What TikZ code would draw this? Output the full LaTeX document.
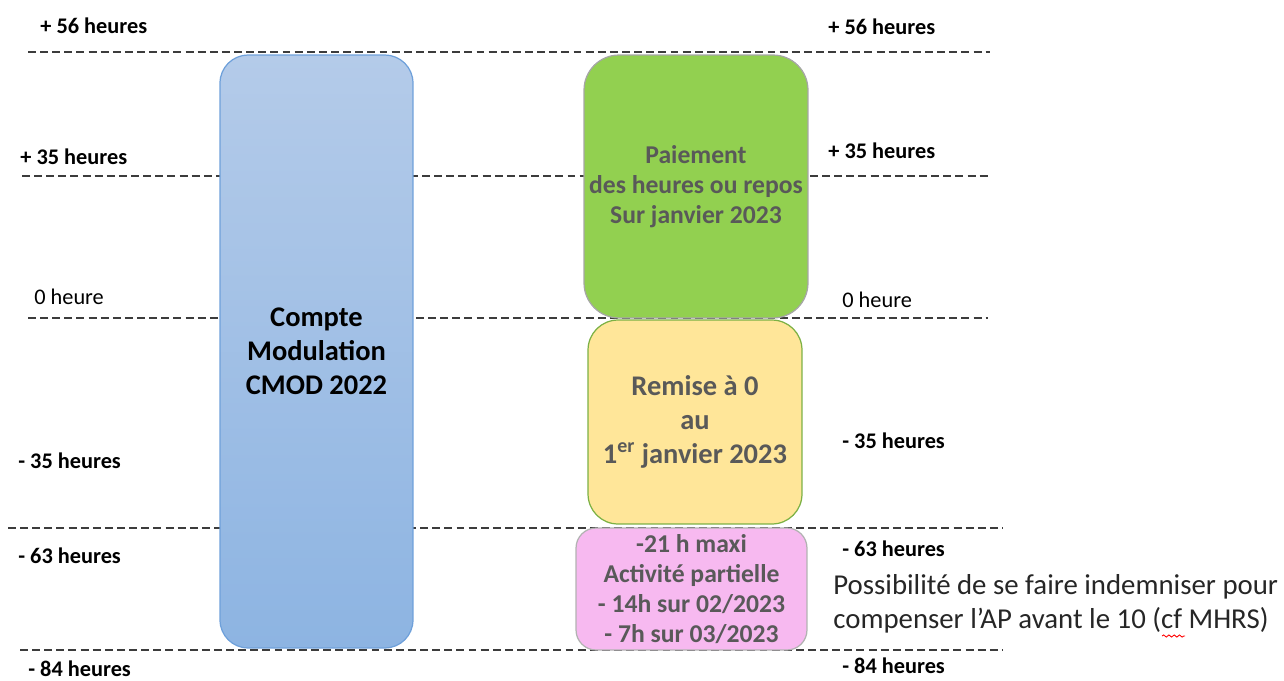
\documentclass[tikz,border=0pt]{standalone}
\usepackage{fontspec}
\setmainfont{Carlito}
\usepackage{tikz}
\usetikzlibrary{positioning,decorations.pathmorphing}
\definecolor{cmodtop}{RGB}{180,203,233}
\definecolor{cmodbot}{RGB}{141,180,226}
\definecolor{cmodline}{RGB}{110,160,218}
\definecolor{paygreen}{RGB}{146,208,80}
\definecolor{resetyellow}{RGB}{255,230,153}
\definecolor{appink}{RGB}{247,185,240}
\definecolor{textgrey}{RGB}{89,89,89}
\definecolor{dashgrey}{RGB}{60,60,60}
\tikzset{levelline/.style={dashgrey,line width=0.68pt,dash pattern=on 4.5pt off 2.4pt}}

\begin{document}
\begin{tikzpicture}[x=0.02cm, y=-0.02cm]

\tikzset{heures/.style={font=\fontsize{12.7}{15}\selectfont\bfseries,anchor=west,inner sep=0pt},
zeroh/.style={heures,font=\fontsize{12.7}{15}\selectfont},
box/.style={draw,line width=0.7pt,align=center,inner sep=0pt,text=textgrey},
bigtext/.style={font=\fontsize{16.2}{19.4}\selectfont\bfseries},
smalltext/.style={font=\fontsize{14.6}{17.1}\selectfont\bfseries}}

% Frame
\useasboundingbox (0,0) rectangle (1284,680);

% Levels
\foreach \y/\a/\b in {52/28/990, 176/22/990, 318/28/988, 528/8/1003, 650/20/1003} \draw[levelline] (\a,\y) -- (\b,\y);

% Boxes
\node[box,bigtext,text=black,draw=cmodline,top color=cmodtop,bottom color=cmodbot,rounded corners=0.56cm,minimum width=3.86cm,minimum height=11.86cm] (cmod) at (316.5,351.5) {Compte\\Modulation\\CMOD 2022};
\node[box,smalltext,draw=black!35,fill=paygreen,rounded corners=0.7cm,minimum width=4.48cm,minimum height=5.26cm] (paiement) at (696,186.5) {Paiement\\des heures ou repos\\Sur janvier 2023};
\node[box,bigtext,draw=paygreen!85!black,fill=resetyellow,rounded corners=0.6cm,minimum width=4.28cm,minimum height=4.08cm] (remise) at (695,422) {Remise à 0\\au\\1\textsuperscript{er} janvier 2023};
\node[box,smalltext,draw=black!30,fill=appink,rounded corners=0.4cm,minimum width=4.62cm,minimum height=2.44cm] (activite) at (691.5,589) {-21 h maxi\\Activité partielle\\- 14h sur 02/2023\\- 7h sur 03/2023};

% Hours, left and right
\foreach \x/\y/\t [count=\i] in {40/26/+ 56 heures, 20/157/+ 35 heures, 18/461/- 35 heures, 18/556/- 63 heures, 28/669/- 84 heures} \node[heures] (left\i) at (\x,\y) {\t};
\foreach \x/\y/\t [count=\i] in {828/27/+ 56 heures, 828/151/+ 35 heures, 842/441/- 35 heures, 842/549/- 63 heures, 842/666/- 84 heures} \node[heures] (right\i) at (\x,\y) {\t};
\node[zeroh] (leftzero) at (34,297) {0 heure};
\node[zeroh] (rightzero) at (842,300) {0 heure};

% Note
\node[anchor=west,inner sep=0pt,align=left,text=black!85,font=\fontsize{16.4}{19.4}\selectfont] (note) at (833,604) {Possibilité de se faire indemniser pour\\compenser l’AP avant le 10 (cf MHRS)};
\draw[red,line width=0.5pt,decorate,decoration={snake,amplitude=0.6pt,segment length=3pt}] (1162,636) -- (1185,636);

\end{tikzpicture}
\end{document}
